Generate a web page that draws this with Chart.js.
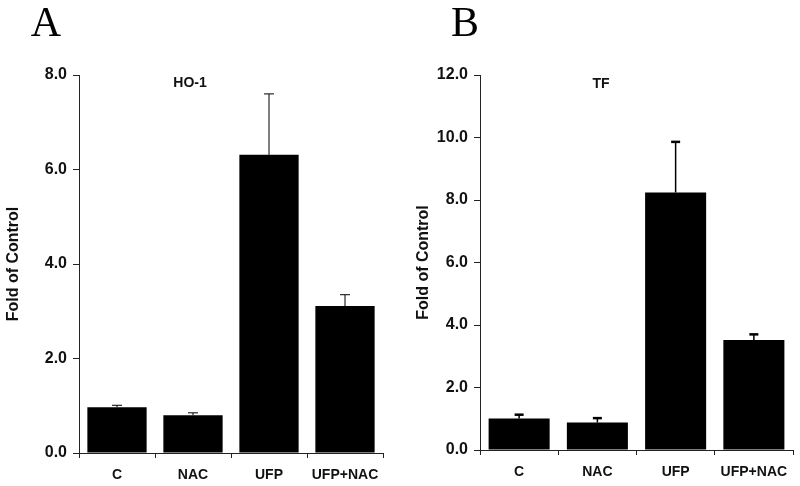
<!DOCTYPE html>
<html><head><meta charset="utf-8">
<script src="https://cdn.jsdelivr.net/npm/chart.js@4/dist/chart.umd.min.js"></script>
<style>
html,body{margin:0;padding:0;background:#fff;width:800px;height:486px;overflow:hidden}
.panel{position:absolute;top:0;width:400px;height:486px}
</style></head><body>
<div class="panel" style="left:0"><canvas id="cA" width="400" height="486"></canvas></div>
<div class="panel" style="left:400px"><canvas id="cB" width="400" height="486"></canvas></div>
<script>
const categories = ['C', 'NAC', 'UFP', 'UFP+NAC'];
const hoValues = [0.97, 0.80, 6.31, 3.11];
const hoErrors = [0.04, 0.05, 1.29, 0.24];
const tfValues = [1.01, 0.88, 8.24, 3.52];
const tfErrors = [0.12, 0.14, 1.62, 0.18];
const hoTicks = [0, 2, 4, 6, 8];
const tfTicks = [0, 2, 4, 6, 8, 10, 12];

function extrasPlugin(cfg) {
  return {
    id: 'extras',
    afterDatasetsDraw(chart) {
      const ctx = chart.ctx;
      const meta = chart.getDatasetMeta(0);
      const ys = chart.scales.y;
      ctx.save();
      ctx.strokeStyle = '#000';
      meta.data.forEach((bar, i) => {
        const v = cfg.values[i], e = cfg.errors[i];
        const yTop = ys.getPixelForValue(v + e);
        const yBar = ys.getPixelForValue(v);
        ctx.lineWidth = cfg.lineW;
        ctx.beginPath(); ctx.moveTo(bar.x, yBar); ctx.lineTo(bar.x, yTop); ctx.stroke();
        ctx.lineWidth = cfg.capW;
        ctx.beginPath(); ctx.moveTo(bar.x - cfg.cap, yTop); ctx.lineTo(bar.x + cfg.cap, yTop); ctx.stroke();
      });
      ctx.fillStyle = '#000';
      ctx.textAlign = 'center';
      ctx.textBaseline = 'alphabetic';
      ctx.font = '42px "Liberation Serif"';
      ctx.fillText(cfg.letter, cfg.letterX, 36);
      ctx.fillStyle = '#111';
      ctx.font = 'bold 14px "Liberation Sans"';
      ctx.fillText(cfg.title, cfg.titleX, cfg.titleY);
      ctx.restore();
    }
  };
}

function makeChart(id, values, errors, ticks, opt) {
  const maxV = ticks[ticks.length - 1];
  return new Chart(document.getElementById(id), {
    type: 'bar',
    data: {
      labels: categories,
      datasets: [{
        data: values,
        backgroundColor: '#000',
        borderWidth: 0,
        categoryPercentage: 1.0,
        barPercentage: 0.78
      }]
    },
    options: {
      responsive: false,
      animation: false,
      devicePixelRatio: 1,
      layout: { padding: { left: 0, right: opt.padRight, top: 75, bottom: 0 } },
      plugins: { legend: { display: false }, tooltip: { enabled: false } },
      scales: {
        x: {
          offset: true,
          grid: { display: true, drawOnChartArea: false, drawTicks: true, tickLength: 5, offset: true, color: '#222', lineWidth: 1 },
          border: { display: true, color: '#222', width: 1 },
          ticks: { color: '#111', padding: 9, font: { family: 'Liberation Sans', size: 14, weight: 'bold' }, maxRotation: 0 },
          afterFit: s => { s.height = opt.xHeight; }
        },
        y: {
          min: 0, max: maxV,
          grid: { display: true, drawOnChartArea: false, drawTicks: true, tickLength: 6, color: '#222', lineWidth: 1 },
          border: { display: true, color: '#222', width: 1 },
          ticks: { color: '#111', padding: 6, font: { family: 'Liberation Sans', size: 16, weight: 'bold' },
                   callback: v => Number(v).toFixed(1) },
          afterBuildTicks: s => { s.ticks = ticks.map(v => ({ value: v })); },
          title: { display: true, text: 'Fold of Control', color: '#111',
                   font: { family: 'Liberation Sans', size: 16, weight: 'bold' },
                   padding: { top: opt.titlePad, bottom: 0 } },
          afterFit: s => { s.width = opt.yWidth; }
        }
      }
    },
    plugins: [extrasPlugin({ values, errors, lineW: opt.lineW, capW: opt.capW, cap: opt.cap,
                             letter: opt.letter, letterX: opt.letterX, title: opt.title, titleX: opt.titleX, titleY: opt.titleY })]
  });
}

makeChart('cA', hoValues, hoErrors, hoTicks, {
  padRight: 17, xHeight: 33, yWidth: 79, titlePad: 4,
  lineW: 1, capW: 1, cap: 5, letter: 'A', letterX: 46, title: 'HO-1', titleX: 190, titleY: 87
});
makeChart('cB', tfValues, tfErrors, tfTicks, {
  padRight: 7, xHeight: 36, yWidth: 80, titlePad: 14,
  lineW: 1.5, capW: 2.5, cap: 4.5, letter: 'B', letterX: 65, title: 'TF', titleX: 201, titleY: 88
});
</script>
</body></html>
